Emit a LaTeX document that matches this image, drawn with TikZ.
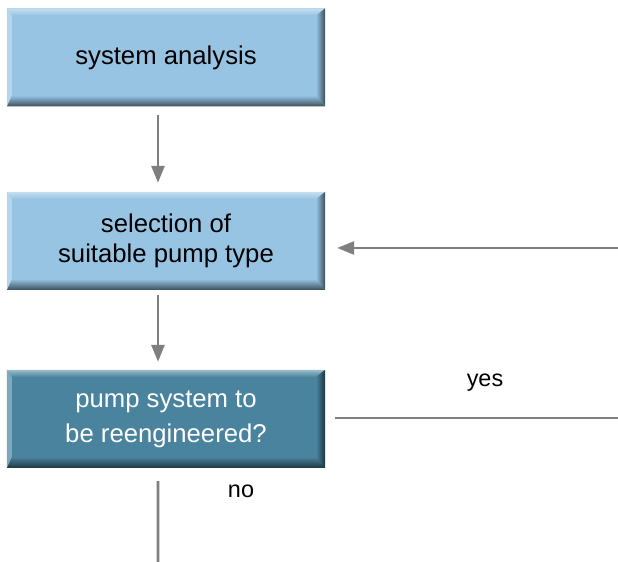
\documentclass[tikz,border=0pt]{standalone}
\usepackage{fontspec}
\setmainfont{Liberation Sans}
\usepackage{tikz}
\usetikzlibrary{calc,arrows.meta,positioning}
\definecolor{box-light}{HTML}{96C4E2}
\definecolor{box-dark}{HTML}{4A839E}
\definecolor{flow-gray}{HTML}{7F7F7F}
\tikzset{
  stepbox/.style={rectangle, fill=#1, minimum width=318bp, minimum height=98bp,
    inner sep=0pt, align=center, font=\fontsize{25.8}{30}\selectfont,
    path picture={
      \shade[left color=#1!70!white, right color=#1] (path picture bounding box.north west)
        -- ([shift={(5bp,-7bp)}]path picture bounding box.north west)
        -- ([shift={(5bp,11bp)}]path picture bounding box.south west)
        -- (path picture bounding box.south west) -- cycle;
      \shade[top color=#1!55!white, bottom color=#1] (path picture bounding box.north west)
        -- (path picture bounding box.north east)
        -- ([shift={(-9bp,-7bp)}]path picture bounding box.north east)
        -- ([shift={(5bp,-7bp)}]path picture bounding box.north west) -- cycle;
      \shade[left color=#1, right color=#1!40!black] (path picture bounding box.north east)
        -- (path picture bounding box.south east)
        -- ([shift={(-9bp,11bp)}]path picture bounding box.south east)
        -- ([shift={(-9bp,-7bp)}]path picture bounding box.north east) -- cycle;
      \shade[top color=#1, bottom color=#1!40!black] (path picture bounding box.south west)
        -- (path picture bounding box.south east)
        -- ([shift={(-9bp,11bp)}]path picture bounding box.south east)
        -- ([shift={(5bp,11bp)}]path picture bounding box.south west) -- cycle;
    }},
  flow/.style={draw=flow-gray, line width=2.7bp},
  flowarrow/.style={flow, -{Triangle[length=17bp, width=13bp]}},
  answer/.style={font=\fontsize{23.5}{26}\selectfont}
}

\begin{document}
\begin{tikzpicture}[x=1bp, y=1bp]
    \useasboundingbox (0,0) rectangle (618,562);
    \node[stepbox=box-light, text=black] (sys) at (166,504.5) {system analysis};
    \node[stepbox=box-light, text=black] (sel) at (166,321) {selection of\\suitable pump type};
    \node[stepbox=box-dark, text=white, font=\fontsize{25.8}{35}\selectfont] (dec) at (166,143) {pump system to\\be reengineered?};
    \coordinate (back) at (618,314);
    \coordinate (loop) at (618,144);
    \coordinate (exit) at (158,0);

    \draw[flowarrow, shorten <=8bp, shorten >=9bp] ([xshift=-8bp]sys.south) -- ([xshift=-8bp]sel.north);
    \draw[flowarrow, shorten <=5bp, shorten >=8bp] ([xshift=-8bp]sel.south) -- ([xshift=-8bp]dec.north);
    \draw[flowarrow, shorten >=12bp] (back) -- (sel.east |- back);
    \draw[flow, shorten <=10bp] (dec.east |- loop) -- (loop);
    \draw[flow, shorten <=13bp] ([xshift=-8bp]dec.south) -- (exit);

    \node[answer] (yes) at (485,179) {yes};
    \node[answer] (no) at (241,71) {no};
\end{tikzpicture}
\end{document}
